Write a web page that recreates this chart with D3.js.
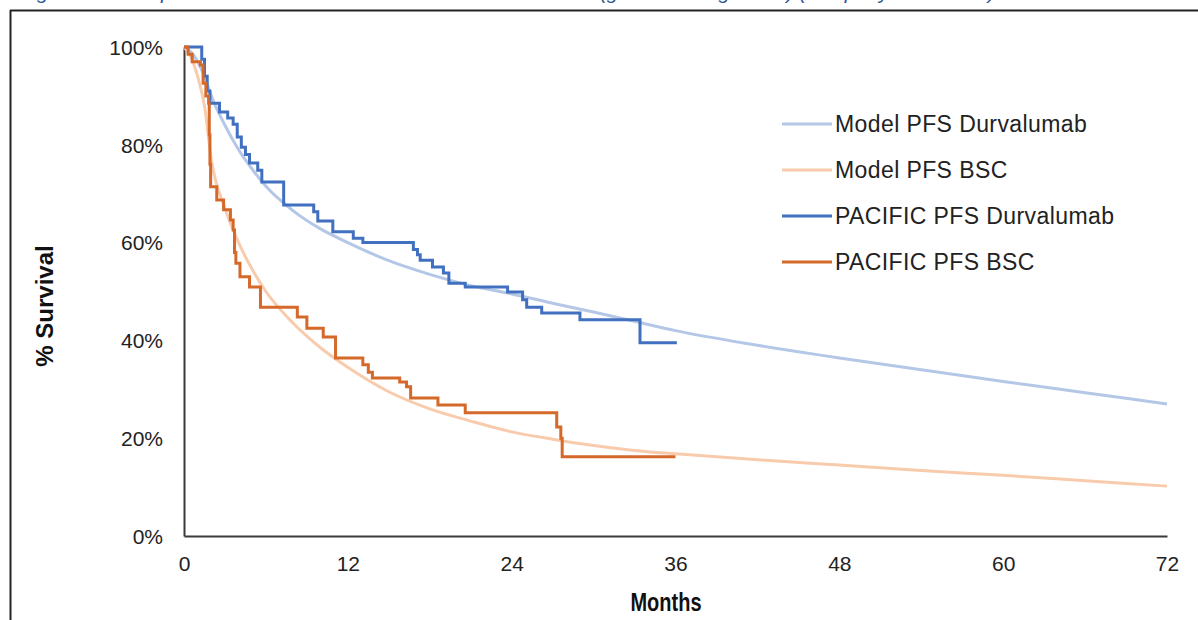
<!DOCTYPE html>
<html><head><meta charset="utf-8">
<script src="https://cdn.jsdelivr.net/npm/d3@7"></script>
<style>
html,body{margin:0;padding:0;background:#fff;}
svg{display:block;}
.tick text{font-family:"Liberation Sans",Arial,sans-serif;}
</style></head>
<body>
<svg id="chart" width="1198" height="620"></svg>
<script>
// ---- data ----
const xTicks = [0, 12, 24, 36, 48, 60, 72];
const yTicks = [0, 20, 40, 60, 80, 100];
const seriesNames = ["Model PFS Durvalumab", "Model PFS BSC", "PACIFIC PFS Durvalumab", "PACIFIC PFS BSC"];
const seriesColors = ["#b4c7e7", "#f8cbad", "#4170c0", "#d4692a"];

// modelled curves: months, % survival
const modelMonths = [0, 0.5, 1, 1.5, 2, 3, 4, 5, 6, 8, 10, 12, 15, 18, 21, 24, 27, 30, 33, 36, 42, 48, 54, 60, 66, 72];
const modelDurva  = [100, 99, 97, 94, 90, 84, 79, 75, 71.5, 66.5, 62.8, 60, 56.3, 53.5, 51.2, 49.5, 47.6, 45.8, 43.9, 42, 39, 36.4, 34, 31.6, 29.3, 27];
const modelBSC    = [100, 98, 94, 88, 77, 67, 60, 54.5, 50, 43.5, 38.5, 34.5, 29.5, 26, 23.5, 21.3, 19.8, 18.5, 17.5, 16.8, 15.6, 14.5, 13.4, 12.4, 11.3, 10.2];

// Kaplan-Meier step data (time of step, survival after step)
const kmDurvaMonths = [0, 1.3, 1.5, 1.7, 1.9, 2.6, 3.2, 3.6, 3.9, 4.2, 4.5, 4.8, 5.4, 5.7, 7.3, 9.5, 9.8, 10.9, 12.4, 13.1, 16.8, 17.1, 17.3, 18.2, 19.0, 19.4, 20.6, 23.7, 24.8, 25.1, 26.2, 29.0, 33.4, 36.1];
const kmDurvaSurv   = [100, 97.5, 94, 91, 88.5, 86.7, 85.5, 84.2, 81.6, 79.5, 78, 76.3, 74.8, 72.4, 67.7, 66.3, 64.4, 62.2, 60.9, 60.0, 58.6, 57.5, 56.4, 55, 53.8, 51.7, 50.9, 49.9, 48.3, 46.8, 45.6, 44.2, 39.5, 39.5];
const kmBSCMonths   = [0, 0.3, 0.6, 1.2, 1.4, 1.6, 1.8, 1.85, 1.9, 1.95, 2.4, 2.9, 3.4, 3.6, 3.7, 3.8, 4.1, 4.8, 5.6, 8.3, 9.0, 10.2, 11.1, 13.1, 13.5, 13.8, 15.8, 16.3, 16.6, 18.6, 20.6, 27.3, 27.6, 27.7, 36.0];
const kmBSCSurv     = [100, 98.5, 97, 96.3, 92.6, 90, 88.5, 82, 76, 71.4, 68.7, 66.7, 64.6, 62.6, 58, 55.8, 53, 50.9, 46.8, 44.8, 42.5, 40.7, 36.4, 35, 33.5, 32.3, 31.5, 30.5, 28.2, 26.8, 25.2, 22.3, 20, 16.2, 16.2];

const caption = "Figure 14: Comparison of modelled PFS with PACIFIC KM data (generalised gamma) (company base case)";

// ---- layout ----
const svg = d3.select("#chart");
const W = 1198, H = 620;
const m = {left: 184, right: 1167, top: 47, bottom: 536};

const x = d3.scaleLinear().domain([0, 72]).range([m.left, m.right]);
const y = d3.scaleLinear().domain([0, 100]).range([m.bottom, m.top]);

// caption (cropped above the frame, as in the source)
svg.append("text")
  .attr("x", 20).attr("y", -1)
  .attr("font-family", "Liberation Sans, Arial, sans-serif")
  .attr("font-style", "italic")
  .attr("font-size", 20)
  .attr("fill", "#2f5496")
  .attr("textLength", 975)
  .attr("lengthAdjust", "spacingAndGlyphs")
  .text(caption);

// frame
svg.append("line").attr("x1", 10).attr("x2", W).attr("y1", 10.5).attr("y2", 10.5)
  .attr("stroke", "#222").attr("stroke-width", 2);
svg.append("line").attr("x1", 10.5).attr("x2", 10.5).attr("y1", 10).attr("y2", H)
  .attr("stroke", "#222").attr("stroke-width", 2);

// axes
const xAxis = d3.axisBottom(x).tickValues(xTicks).tickSize(0).tickPadding(20).tickFormat(d3.format("d"));
const yAxis = d3.axisLeft(y).tickValues(yTicks).tickSize(0).tickPadding(21).tickFormat(d => d + "%");

const gx = svg.append("g").attr("transform", `translate(0,${m.bottom})`).call(xAxis);
const gy = svg.append("g").attr("transform", `translate(${m.left},0)`).call(yAxis);
[gx, gy].forEach(g => {
  g.select(".domain").attr("stroke", "#3a3a3a").attr("stroke-width", 2);
  g.selectAll(".tick text").attr("font-size", 21).attr("fill", "#222");
});
gy.selectAll(".tick text").attr("dy", "0.35em");

// series drawing
const modelLine = d3.line().x(d => x(d[0])).y(d => y(d[1])).curve(d3.curveMonotoneX);
const kmLine = d3.line().x(d => x(d[0])).y(d => y(d[1])).curve(d3.curveStepAfter);

const plot = svg.append("g");
plot.append("path").datum(d3.zip(modelMonths, modelDurva)).attr("d", modelLine)
  .attr("fill", "none").attr("stroke", seriesColors[0]).attr("stroke-width", 3);
plot.append("path").datum(d3.zip(modelMonths, modelBSC)).attr("d", modelLine)
  .attr("fill", "none").attr("stroke", seriesColors[1]).attr("stroke-width", 3);
plot.append("path").datum(d3.zip(kmDurvaMonths, kmDurvaSurv)).attr("d", kmLine)
  .attr("fill", "none").attr("stroke", seriesColors[2]).attr("stroke-width", 3);
plot.append("path").datum(d3.zip(kmBSCMonths, kmBSCSurv)).attr("d", kmLine)
  .attr("fill", "none").attr("stroke", seriesColors[3]).attr("stroke-width", 3);

// axis titles
svg.append("g").attr("transform", "translate(666,611) scale(0.8,1)")
  .append("text")
  .attr("text-anchor", "middle")
  .attr("font-family", "Liberation Sans, Arial, sans-serif")
  .attr("font-weight", "bold").attr("font-size", 25).attr("fill", "#111")
  .text("Months");
svg.append("text")
  .attr("transform", "translate(53,306) rotate(-90)")
  .attr("text-anchor", "middle")
  .attr("font-family", "Liberation Sans, Arial, sans-serif")
  .attr("font-weight", "bold").attr("font-size", 24).attr("fill", "#111")
  .text("% Survival");

// legend
const legY = [124, 170, 216, 262];
const leg = svg.append("g");
seriesNames.forEach((name, i) => {
  leg.append("line").attr("x1", 782).attr("x2", 832).attr("y1", legY[i]).attr("y2", legY[i])
    .attr("stroke", seriesColors[i]).attr("stroke-width", 3);
  leg.append("text").attr("x", 835).attr("y", legY[i]).attr("dy", "0.35em")
    .attr("font-family", "Liberation Sans, Arial, sans-serif")
    .attr("font-size", 23).attr("letter-spacing", 0.4).attr("fill", "#222")
    .text(name);
});
</script>
</body></html>
